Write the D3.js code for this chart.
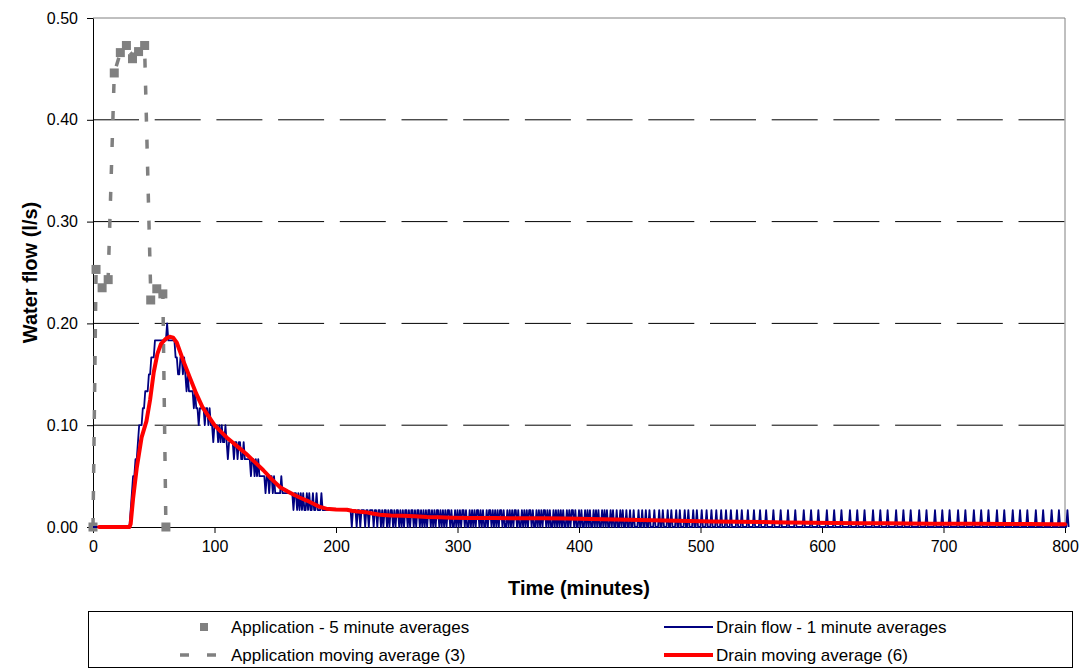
<!DOCTYPE html>
<html>
<head>
<meta charset="utf-8">
<script src="https://cdn.jsdelivr.net/npm/d3@7"></script>
<style>
  html, body { margin: 0; padding: 0; background: #fff; }
  svg { display: block; font-family: Arial, "Liberation Sans", sans-serif; }
</style>
</head>
<body>
<svg id="chart" width="1085" height="671"></svg>
<script>
// Application: 5-minute averages (minute, l/s)
const appTime = [0, 2.5, 7.5, 12.5, 17.5, 22.5, 27.5, 32.5, 37.5, 42.5, 47.5, 52.5, 57.5, 60];
const appFlow = [0, 0.253, 0.235, 0.243, 0.446, 0.466, 0.473, 0.460, 0.467, 0.473, 0.223, 0.234, 0.229, 0];

// Application moving average (3)
const appAvgTime = [0, 2.5, 7.5, 12.5, 17.5, 22.5, 27.5, 32.5, 37.5, 42.5, 47.5, 52.5, 57.5, 60];
const appAvgFlow = [0, 0.250, 0.240, 0.245, 0.446, 0.466, 0.470, 0.464, 0.466, 0.470, 0.230, 0.231, 0.229, 0];

// Drain flow: litres counted in each minute, minute 0 onwards
const drainLitres = [
  0,0,0,0,0,0,0,0,0,0, 0,0,0,0,0,0,0,0,0,0, 0,0,0,0,0,0,0,0,0,0, 0,
  1,2,3,3,4,4,5,6,6,6, 7,7,8,8,8,9,9,10,10,10, 11,11,11,11,11,11,11,11,11,11,
  12,11,11,11,11,11,11,10,10,9, 9,10,10,9,10,9,8,9,8,8, 8,8,7,8,7,7,6,7,7,7,
  7,6,7,7,6,7,6,6,5,6, 6,6,5,6,5,6,5,5,6,5, 4,5,5,5,5,4,5,5,4,5,
  5,4,4,5,4,4,4,4,4,3, 4,4,3,4,3,4,3,3,3,3, 3,2,3,3,2,3,3,2,3,2,
  2,2,2,2,3,2,2,2,2,2, 2,2,2,2,1,2,2,1,2,1, 2,1,2,1,1,2,1,2,1,1,
  2,1,1,2,1,1,1,2,1,1, 1,1,1,1,1,1,1,1,1,1, 1,1,1,1,1,1,1,1,1,
  // minute 210
  1,1,1,0,1,1,1,0,1,1, 0,1,1,1,0,1,1,0,1,1, 1,0,1,1,0,1,1,0,1,0,
  1,1,0,1,0,1,1,0,1,0, 1,1,0,1,0,1,0,1,1,0, 1,0,1,1,0,1,0,1,1,0,
  1,0,1,0,1,0,1,1,0,1, 0,1,0,1,1,0,1,0,1,0, 1,0,1,1,0,1,0,0,1,0,
  // minute 300
  1,0,1,0,1,1,0,1,0,0, 1,0,1,0,1,0,1,1,0,1, 0,1,0,0,1,0,1,1,0,1,
  0,1,0,1,0,1,1,0,1,0, 0,1,0,1,0,1,0,1,1,0, 1,0,0,1,0,1,0,1,0,1,
  1,0,1,0,0,1,0,1,0,1, 0,1,1,0,1,0,1,0,0,1, 0,1,0,1,0,1,0,1,0,0,
  1,0,1,0,1,1,0,1,0,0,
  // minute 400
  1,0,1,0,0,1,0,1,0,1, 0,0,1,0,1,0,1,0,0,1, 0,1,0,1,0,0,1,0,1,0,
  0,1,0,0,1,0,1,0,0,1, 0,0,1,0,0,1,0,0,0,1, 0,0,1,0,0,1,0,0,1,0,
  0,0,1,0,0,0,1,0,0,1, 0,0,0,1,0,0,1,0,0,0, 1,0,0,1,0,0,0,1,0,0,
  1,0,0,0,1,0,0,1,0,0,
  // minute 500
  0,1,0,0,0,1,0,0,0,1, 0,0,0,1,0,0,0,1,0,0, 0,1,0,0,0,1,0,0,0,0,
  1,0,0,0,1,0,0,0,0,1, 0,0,0,0,1,0,0,0,0,1, 0,0,0,0,1,0,0,0,0,0,
  1,0,0,0,0,0,1,0,0,0, 0,0,1,0,0,0,0,0,1,0, 0,0,0,0,0,1,0,0,0,0,
  0,1,0,0,0,0,0,1,0,0,
  // minute 600
  0,0,0,0,1,0,0,0,0,0, 1,0,0,0,0,0,1,0,0,0, 0,0,0,1,0,0,0,0,0,1,
  0,0,0,0,0,1,0,0,0,0, 0,0,1,0,0,0,0,0,1,0, 0,0,0,0,1,0,0,0,0,0,
  0,1,0,0,0,0,0,1,0,0, 0,0,0,1,0,0,0,0,0,0, 1,0,0,0,0,0,1,0,0,0,
  0,0,0,1,0,0,0,0,0,1,
  // minute 700
  0,0,0,0,0,1,0,0,0,0, 0,0,1,0,0,0,0,0,1,0, 0,0,0,0,0,1,0,0,0,0,
  0,1,0,0,0,0,0,1,0,0, 0,0,0,0,1,0,0,0,0,0, 1,0,0,0,0,0,0,1,0,0,
  0,0,0,1,0,0,0,0,0,1, 0,0,0,0,0,0,1,0,0,0, 0,0,1,0,0,0,0,0,0,1,
  0,0,0,0,0,1,0,0,0,0,
  // minute 800
  0,0,1,0
];
const SECONDS_PER_MINUTE = 60;

// Drain moving average (6): minute, l/s
const drainAvgTime = [5, 30, 31, 33, 36, 40, 44, 47, 50, 53, 56, 60, 63, 66, 69, 72, 75, 80, 85, 90,
  95, 100, 105, 110, 115, 120, 126, 133, 140, 147, 154, 160, 165, 170, 176, 181, 186, 192, 200, 209,
  213, 218, 224, 230, 236, 245, 255, 265, 275, 285, 295, 310, 330, 350, 370, 390, 410, 430, 450, 470,
  490, 510, 530, 550, 570, 590, 610, 630, 650, 670, 690, 710, 730, 750, 770, 790, 800];
const drainAvgFlow = [0, 0, 0.003, 0.028, 0.058, 0.088, 0.104, 0.125, 0.152, 0.170, 0.180, 0.185, 0.187, 0.186, 0.181, 0.171, 0.161, 0.146, 0.131, 0.118,
  0.109, 0.100, 0.094, 0.088, 0.083, 0.078, 0.072, 0.064, 0.056, 0.047, 0.039, 0.035, 0.032, 0.029, 0.026, 0.023, 0.020, 0.018, 0.0172, 0.0170,
  0.0160, 0.0152, 0.0146, 0.0133, 0.0120, 0.0114, 0.0110, 0.0106, 0.0099, 0.0095, 0.0092, 0.0089, 0.0088, 0.0086, 0.0085, 0.0083, 0.0079, 0.0074, 0.0068, 0.0063,
  0.0059, 0.0055, 0.0051, 0.0048, 0.0045, 0.0042, 0.0040, 0.0038, 0.0036, 0.0034, 0.0033, 0.0032, 0.0031, 0.0030, 0.0029, 0.0028, 0.0027];

// Axis ticks
const xTicks = [0, 100, 200, 300, 400, 500, 600, 700, 800];
const yTicks = [0, 0.1, 0.2, 0.3, 0.4, 0.5];
const yGrid = [0.1, 0.2, 0.3, 0.4];

const svg = d3.select("#chart");
const plot = { left: 93, right: 1065, top: 18, bottom: 527 };

const x = d3.scaleLinear().domain([0, 800]).range([plot.left, plot.right]);
const y = d3.scaleLinear().domain([0, 0.5]).range([plot.bottom, plot.top]);

// dashed horizontal gridlines
svg.append("g").selectAll("line").data(yGrid).join("line")
  .attr("x1", plot.left).attr("x2", plot.right)
  .attr("y1", d => y(d)).attr("y2", d => y(d))
  .attr("stroke", "#000").attr("stroke-width", 1)
  .attr("stroke-dasharray", "46,15.7");

// plot-area frame (top and right)
svg.append("path")
  .attr("d", `M${plot.left},${y(0.5)}H${plot.right}V${plot.bottom}`)
  .attr("fill", "none").attr("stroke", "#808080").attr("stroke-width", 1);

// axes
const yAxis = svg.append("g").attr("transform", `translate(${plot.left},0)`)
  .call(d3.axisLeft(y).tickValues(yTicks).tickFormat(d3.format(".2f"))
    .tickSize(6).tickSizeOuter(0).tickPadding(9));
const xAxis = svg.append("g").attr("transform", `translate(0,${plot.bottom})`)
  .call(d3.axisBottom(x).tickValues(xTicks).tickFormat(d3.format("d"))
    .tickSize(6).tickSizeOuter(0).tickPadding(8));
[yAxis, xAxis].forEach(g => {
  g.selectAll("text").attr("font-size", 16).attr("fill", "#000")
    .attr("font-family", "Arial, 'Liberation Sans', sans-serif");
  g.selectAll("line").attr("stroke", "#000");
  g.select(".domain").attr("stroke", "#000");
});

// application moving average (dashed grey)
const appAvgPts = appAvgTime.map((t, i) => [t, appAvgFlow[i]]);
svg.append("path").datum(appAvgPts)
  .attr("d", d3.line().x(d => x(d[0])).y(d => y(d[1])))
  .attr("fill", "none").attr("stroke", "#808080").attr("stroke-width", 3.5)
  .attr("stroke-dasharray", "9,18");

// application 5-minute averages (grey squares)
const sq = 9;
svg.append("g").selectAll("rect").data(appTime.map((t, i) => [t, appFlow[i]])).join("rect")
  .attr("x", d => x(d[0]) - sq / 2).attr("y", d => y(d[1]) - sq / 2)
  .attr("width", sq).attr("height", sq).attr("fill", "#808080");

// drain flow, 1-minute averages (navy)
const drainPts = drainLitres.map((c, t) => [t, c / SECONDS_PER_MINUTE]);
svg.append("path").datum(drainPts)
  .attr("d", d3.line().x(d => x(d[0])).y(d => y(d[1])))
  .attr("fill", "none").attr("stroke", "#000080").attr("stroke-width", 1.8)
  .attr("stroke-linejoin", "round");

// drain moving average (red)
const drainAvgPts = drainAvgTime.map((t, i) => [t, drainAvgFlow[i]]);
svg.append("path").datum(drainAvgPts)
  .attr("d", d3.line().x(d => x(d[0])).y(d => y(d[1])))
  .attr("fill", "none").attr("stroke", "#ff0000").attr("stroke-width", 4)
  .attr("stroke-linejoin", "round").attr("stroke-linecap", "round");

// axis titles
svg.append("text")
  .attr("transform", `translate(30,${(plot.top + plot.bottom) / 2}) rotate(-90)`)
  .attr("text-anchor", "middle").attr("dy", "0.35em")
  .attr("font-size", 20).attr("font-weight", "bold").text("Water flow (l/s)");
svg.append("text")
  .attr("x", (plot.left + plot.right) / 2).attr("y", 588).attr("dy", "0.35em")
  .attr("text-anchor", "middle")
  .attr("font-size", 20).attr("font-weight", "bold").text("Time (minutes)");

// legend
const legend = svg.append("g");
legend.append("rect").attr("x", 88.5).attr("y", 611.5).attr("width", 984).attr("height", 56)
  .attr("fill", "#fff").attr("stroke", "#000").attr("stroke-width", 1);
const rows = [627, 655];
const legendText = (xp, yp, s) => legend.append("text").attr("x", xp).attr("y", yp)
  .attr("dy", "0.35em").attr("font-size", 17).text(s);

legend.append("rect").attr("x", 204 - 4).attr("y", rows[0] - 4).attr("width", 8).attr("height", 8)
  .attr("fill", "#808080");
legendText(231, rows[0], "Application - 5 minute averages");

legend.append("line").attr("x1", 180).attr("x2", 228).attr("y1", rows[1]).attr("y2", rows[1])
  .attr("stroke", "#808080").attr("stroke-width", 3.5).attr("stroke-dasharray", "9,18");
legendText(231, rows[1], "Application moving average (3)");

legend.append("line").attr("x1", 664).attr("x2", 713).attr("y1", rows[0]).attr("y2", rows[0])
  .attr("stroke", "#000080").attr("stroke-width", 2);
legendText(716, rows[0], "Drain flow - 1 minute averages");

legend.append("line").attr("x1", 664).attr("x2", 713).attr("y1", rows[1]).attr("y2", rows[1])
  .attr("stroke", "#ff0000").attr("stroke-width", 4);
legendText(716, rows[1], "Drain moving average (6)");
</script>
</body>
</html>
